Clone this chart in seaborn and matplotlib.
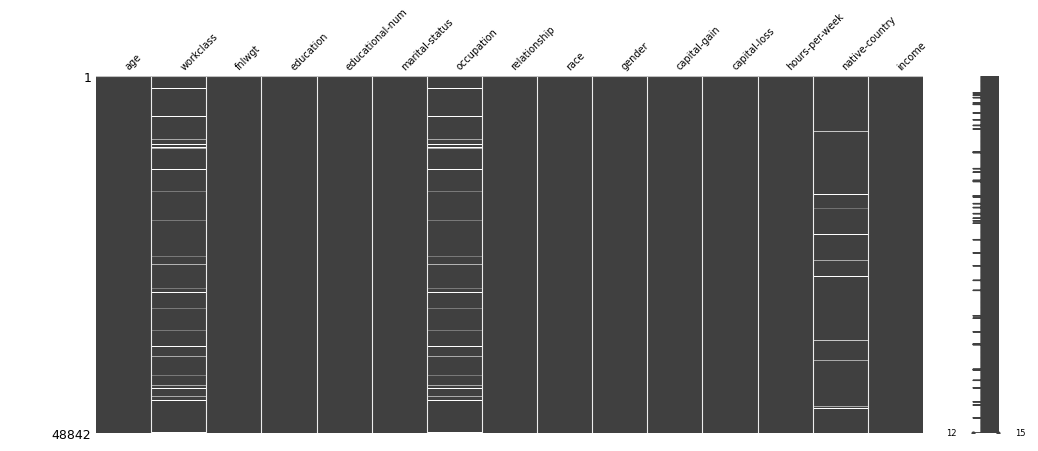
import numpy as np
import matplotlib
matplotlib.use("Agg")
import matplotlib.pyplot as plt
from matplotlib.colors import LinearSegmentedColormap
import seaborn as sns

# Missing-value matrix of the adult census data (48842 rows)
N_ROWS = 48842
columns = ["age", "workclass", "fnlwgt", "education", "educational-num",
           "marital-status", "occupation", "relationship", "race", "gender",
           "capital-gain", "capital-loss", "hours-per-week", "native-country",
           "income"]

# rows where a missing value shows up in the picture, and how strong the line looks
workclass_rows = [1683, 5609, 8715, 9344, 9755, 9987, 12819, 15774, 19701,
                  24667, 25816, 29141, 29592, 31781, 34887, 36980, 38444,
                  41002, 42370, 42727, 43916, 44463, 48746]
workclass_shade = [1.0, 1.0, 0.55, 1.0, 1.0, 0.55, 1.0, 0.3, 0.3,
                   0.3, 0.6, 0.3, 1.0, 0.3, 0.3, 1.0, 0.55,
                   0.3, 0.55, 1.0, 0.55, 1.0, 1.0]
occupation_rows = workclass_rows
occupation_shade = workclass_shade
country_rows = [7620, 16280, 18196, 21657, 25214, 27403, 36255, 38950, 45243, 45516]
country_shade = [0.7, 1.0, 0.25, 1.0, 0.55, 1.0, 0.7, 0.55, 0.55, 1.0]

# sparkline: row completeness never goes above 15, band floor 13, dips to 12 here
spark_max = 15
spark_floor = 13
spark_min = 12
spark_rows_12 = [2326, 2599, 2969, 3700, 3870, 5062, 5979, 6745, 7251, 10380,
                 10500, 12682, 13175, 14300, 14430, 16400, 16520, 17471, 18018,
                 18839, 19468, 19796, 20152, 22396, 24215, 25953, 27951, 29319,
                 32793, 33149, 34982, 36650, 36770, 40120, 40240, 41632, 42644,
                 44559, 45010, 46748, 48800]

# build binned matrix
NB = 357
matrix = np.zeros((NB, len(columns)))
for col, rows, shades in [("workclass", workclass_rows, workclass_shade),
                          ("occupation", occupation_rows, occupation_shade),
                          ("native-country", country_rows, country_shade)]:
    j = columns.index(col)
    for r, s in zip(rows, shades):
        b = min(int(r / N_ROWS * NB), NB - 1)
        matrix[b, j] = max(matrix[b, j], s)

fig = plt.figure(figsize=(10.38, 4.52), dpi=100)
ax0 = fig.add_axes([96 / 1038, 1 - 434 / 452, 827 / 1038, 357 / 452])
ax1 = fig.add_axes([956.3 / 1038, 1 - 434 / 452, 58.4 / 1038, 357 / 452])

cmap = LinearSegmentedColormap.from_list("msno", [(0.25, 0.25, 0.25), (1, 1, 1)])
sns.heatmap(matrix, ax=ax0, cmap=cmap, vmin=0, vmax=1, cbar=False,
            xticklabels=False, yticklabels=False)

for x in range(1, len(columns)):
    ax0.axvline(x, color=(0.93, 0.93, 0.93), linewidth=0.8)
ax0.axhline(0, color=(0.75, 0.75, 0.75), linewidth=0.8)

ax0.xaxis.tick_top()
ax0.set_xticks(np.arange(len(columns)) + 0.5)
ax0.set_xticklabels(columns, rotation=45, ha="left", fontsize=7)
ax0.set_yticks([0, NB])
ax0.set_yticklabels(["1", str(N_ROWS)], fontsize=9, rotation=0)
ax0.tick_params(length=0)
ax0.set_xlabel("")
ax0.set_ylabel("")

# sparkline
n_spark = 1000
step = N_ROWS / n_spark
low = np.full(n_spark, spark_floor)
for r in spark_rows_12:
    low[min(int(r / step), n_spark - 1)] = spark_min
ys = np.arange(n_spark) * step
xs_line = np.empty(2 * n_spark)
ys_line = np.empty(2 * n_spark)
xs_line[0::2] = spark_max
xs_line[1::2] = low
ys_line[0::2] = ys
ys_line[1::2] = ys + step / 2
dark = (0.25, 0.25, 0.25)
ax1.plot(xs_line, ys_line, color=dark, linewidth=1.0)

min_row = max(spark_rows_12)
max_row = N_ROWS
ax1.plot([spark_min], [min_row], ".", color=dark, markersize=4)
ax1.plot([spark_max], [max_row], ".", color=dark, markersize=4)
ax1.annotate(str(spark_min), xy=(spark_min, min_row), xytext=(spark_min - 2, min_row),
             fontsize=6, va="center", ha="right")
ax1.annotate(str(spark_max), xy=(spark_max, max_row), xytext=(spark_max + 2, max_row),
             fontsize=6, va="center", ha="left")
ax1.set_xlim(spark_min - 2, spark_max + 2)
ax1.set_ylim(N_ROWS, 0)
ax1.set_xticks([])
ax1.set_yticks([])
for s in ax1.spines.values():
    s.set_visible(False)

plt.savefig("out.png", dpi=100)
